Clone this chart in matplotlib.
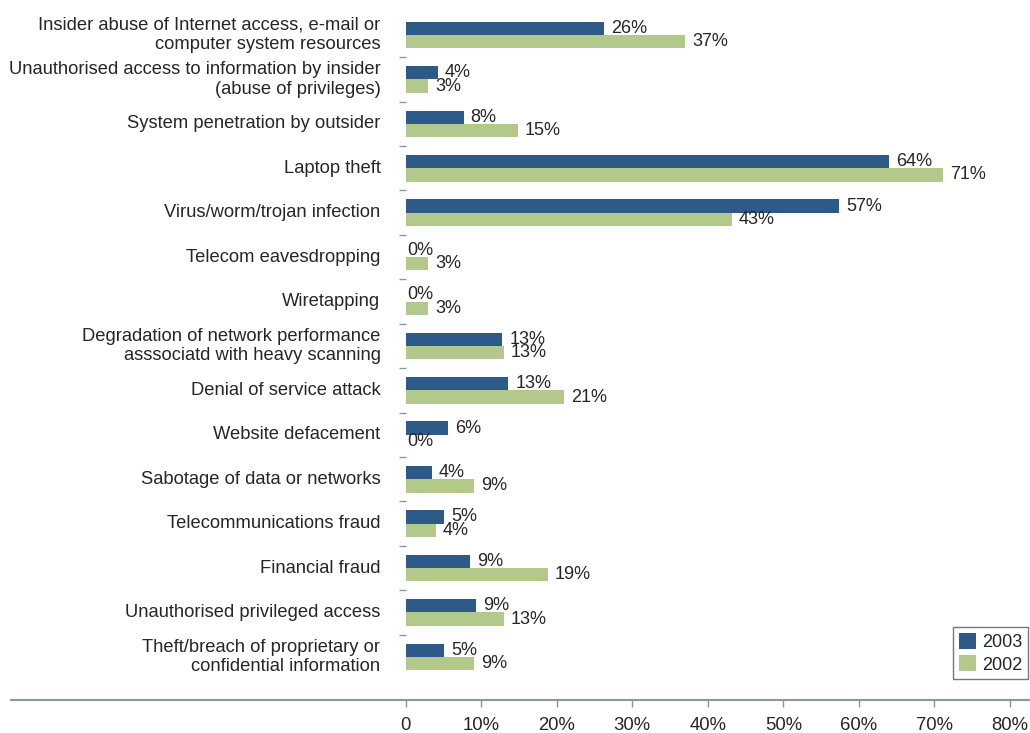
import matplotlib.pyplot as plt
from matplotlib.lines import Line2D
from matplotlib.patches import Patch

plt.rcParams['font.family'] = ['Liberation Sans', 'DejaVu Sans']

categories = ['Insider abuse of Internet access, e-mail or\ncomputer system resources',
              'Unauthorised access to information by insider\n(abuse of privileges)',
              'System penetration by outsider',
              'Laptop theft',
              'Virus/worm/trojan infection',
              'Telecom eavesdropping',
              'Wiretapping',
              'Degradation of network performance\nasssociatd with heavy scanning',
              'Denial of service attack',
              'Website defacement',
              'Sabotage of data or networks',
              'Telecommunications fraud',
              'Financial fraud',
              'Unauthorised privileged access',
              'Theft/breach of proprietary or\nconfidential information']

# bar lengths
vals_2003 = [26.3, 4.3, 7.7, 64.0, 57.4, 0, 0, 12.8, 13.6, 5.6, 3.5, 5.1, 8.5, 9.3, 5.1]
vals_2002 = [37.0, 3.0, 14.9, 71.1, 43.2, 3.0, 3.0, 13.0, 21.0, 0, 9.1, 4.0, 18.8, 13.0, 9.1]
# printed labels
labels_2003 = [26, 4, 8, 64, 57, 0, 0, 13, 13, 6, 4, 5, 9, 9, 5]
labels_2002 = [37, 3, 15, 71, 43, 3, 3, 13, 21, 0, 9, 4, 19, 13, 9]

xticks = [0, 10, 20, 30, 40, 50, 60, 70, 80]
xticklabels = ['0', '10%', '20%', '30%', '40%', '50%', '60%', '70%', '80%']

blue = '#2E5A8A'
green = '#B3C98B'
txt = '#262626'
axcol = '#8A979E'

fig = plt.figure(figsize=(10.3, 7.33), dpi=100)
W, H = 1030.0, 733.0
ax = fig.add_axes([405.5/W, (H-700)/H, (1010-405.5)/W, (700-12.8)/H])

pos = list(range(len(categories)))
h = 0.3
ax.barh([p - h/2 for p in pos], vals_2003, height=h, color=blue, label='2003')
ax.barh([p + h/2 for p in pos], vals_2002, height=h, color=green, label='2002')

px = 80/(1010-405.5)  # data units per pixel
for p, v, l in zip(pos, vals_2003, labels_2003):
    off = 2 if v == 0 else 7
    ax.text(v + off*px, p - h/2, str(l) + '%', va='center', ha='left', fontsize=13, color=txt)
for p, v, l in zip(pos, vals_2002, labels_2002):
    off = 2 if v == 0 else 7
    ax.text(v + off*px, p + h/2, str(l) + '%', va='center', ha='left', fontsize=13, color=txt)

for p, c in zip(pos, categories):
    ax.text(-25*px, p, c, ha='right', va='center', fontsize=13.2, color=txt, linespacing=1.2)

ax.set_xlim(0, 80)
ax.set_ylim(14.97, -0.5)
ax.set_xticks(xticks)
ax.set_xticklabels(xticklabels, fontsize=13.3, color=txt)
ax.set_yticks([p + 0.5 for p in pos[:-1]])
ax.set_yticklabels([])
ax.tick_params(axis='y', length=5, color=axcol, width=1)
ax.tick_params(axis='x', length=5, color=axcol, width=1, pad=7)
for s in ['top', 'right', 'left', 'bottom']:
    ax.spines[s].set_visible(False)

# long bottom axis line across the figure
fig.add_artist(Line2D([11/W, 1.0], [(H-700)/H, (H-700)/H], color=axcol, lw=1.5))

handles = [Patch(facecolor=blue, label='2003'), Patch(facecolor=green, label='2002')]
leg = ax.legend(handles=handles, loc='lower right', bbox_to_anchor=(1028/W, (H-679)/H),
                bbox_transform=fig.transFigure, fontsize=13, frameon=True, fancybox=False,
                edgecolor='#555555', handlelength=0.95, handleheight=1.0, handletextpad=0.35,
                borderpad=0.3, labelspacing=0.25, borderaxespad=0)
leg.get_frame().set_linewidth(1.0)
for t in leg.get_texts():
    t.set_color(txt)

fig.savefig('out.png')
